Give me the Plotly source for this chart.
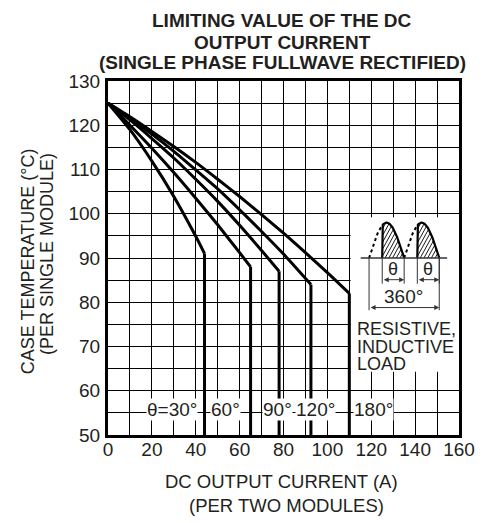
import numpy as np
import plotly.graph_objects as go

# ---------------- data ----------------
i_30 = [0, 10, 20, 30, 40, 44]
t_30 = [125, 119.0, 111.9, 103.9, 94.9, 91.0]
i_60 = [0, 10, 20, 30, 40, 50, 60, 65]
t_60 = [125, 120.0, 114.8, 109.3, 103.5, 97.5, 91.2, 88.0]
i_90 = [0, 10, 20, 30, 40, 50, 60, 70, 78]
t_90 = [125, 121.2, 117.0, 112.6, 107.8, 102.8, 97.4, 91.7, 87.0]
i_120 = [0, 10, 20, 30, 40, 50, 60, 70, 80, 92.5]
t_120 = [125, 121.6, 118.0, 114.1, 109.9, 105.6, 100.9, 96.0, 90.9, 84.0]
i_180 = [0, 10, 20, 30, 40, 50, 60, 70, 80, 90, 100, 110]
t_180 = [125, 121.9, 118.6, 115.2, 111.6, 107.8, 103.9, 99.8, 95.6, 91.2, 86.7, 82.0]

curve_i = [i_30, i_60, i_90, i_120, i_180]
curve_t = [t_30, t_60, t_90, t_120, t_180]

label_text = ["θ=30°", "60°", "90°", "120°", "180°"]
label_i = [29.3, 53.5, 77.4, 94.4, 120.9]
label_t = 55.8

x_ticks = [0, 20, 40, 60, 80, 100, 120, 140, 160]
y_ticks = [50, 60, 70, 80, 90, 100, 110, 120, 130]

title_lines = ["LIMITING VALUE OF THE DC", "OUTPUT CURRENT",
               "(SINGLE PHASE FULLWAVE RECTIFIED)"]
y_title_lines = ["CASE TEMPERATURE (°C)", "(PER SINGLE MODULE)"]
x_title_lines = ["DC OUTPUT CURRENT (A)", "(PER TWO MODULES)"]
load_lines = ["RESISTIVE,", "INDUCTIVE", "LOAD"]

# ---------------- styling / inset geometry ----------------
FONT = "Liberation Sans"
TXT = "#231f20"
WIN_W, WIN_H = 487, 523
OFF = 8                       # page body margin of the browser
W, H = WIN_W - OFF, WIN_H - OFF
PL, PR, PT, PB = 108, 465, 81, 435   # plot area in window pixels
L = PL - OFF
T = PT - OFF
R = W - (PR - OFF)
B = H - (PB - OFF)
Y_MIN = 50

inset_base = 90.0
arc_starts = [119.0, 135.0]
arc_w = 16.0
arc_h = 8.0
fire_off = 6.0

fig = go.Figure()

# white cover for the inset area (above grid, below curves)
cover_x = [110.6, 160, 160, 110.6, 110.6]
cover_y = [64.3, 64.3, 99.2, 99.2, 64.3]
fig.add_trace(go.Scatter(x=cover_x, y=cover_y, fill="toself", fillcolor="white",
                         mode="lines", line=dict(width=0, color="white"),
                         hoverinfo="skip"))

# curves
for xs, ts in zip(curve_i, curve_t):
    fig.add_trace(go.Scatter(x=xs, y=ts, mode="lines",
                             line=dict(color="black", width=3, shape="spline",
                                       smoothing=0.6)))
    fig.add_trace(go.Scatter(x=[xs[-1], xs[-1]], y=[ts[-1], Y_MIN], mode="lines",
                             line=dict(color="black", width=3)))

# inset waveform
def arc(x, s):
    return inset_base + arc_h * np.sin(np.pi * (x - s) / arc_w)

hx, hy = [], []
k = 0.9
for s in arc_starts:
    f = s + fire_off
    e = s + arc_w
    xd = np.linspace(s, f, 30)
    fig.add_trace(go.Scatter(x=xd, y=arc(xd, s), mode="lines",
                             line=dict(color="black", width=2, dash="3px,3px")))
    xs_ = np.linspace(f, e, 40)
    fig.add_trace(go.Scatter(x=np.concatenate([[f], xs_]),
                             y=np.concatenate([[inset_base], arc(xs_, s)]),
                             mode="lines", line=dict(color="black", width=2.2)))
    xx = np.linspace(f, e, 600)
    c = f - arc_h / k
    while c < e:
        tl = inset_base + k * (xx - c)
        inside = (tl >= inset_base) & (tl <= arc(xx, s))
        if inside.any():
            idx = np.where(inside)[0]
            hx += [xx[idx[0]], xx[idx[-1]], None]
            hy += [tl[idx[0]], tl[idx[-1]], None]
        c += 1.7
fig.add_trace(go.Scatter(x=hx, y=hy, mode="lines", line=dict(color="black", width=0.9)))

# baseline
fig.add_trace(go.Scatter(x=[115.2, 154.6], y=[inset_base, inset_base], mode="lines",
                         line=dict(color="#333", width=1.5)))

# extension lines
ext_x, ext_y = [], []
for s in arc_starts:
    for xv in (s + fire_off, s + arc_w):
        ext_x += [xv, xv, None]
        ext_y += [inset_base, 84.2, None]
for xv in (arc_starts[0], arc_starts[1] + arc_w):
    ext_x += [xv, xv, None]
    ext_y += [inset_base, 78.2, None]
fig.add_trace(go.Scatter(x=ext_x, y=ext_y, mode="lines",
                         line=dict(color="#333", width=1)))

annotations = []

def dim_arrow(x0, x1, yv):
    annotations.append(dict(x=x1, y=yv, ax=x0, ay=yv, xref="x", yref="y",
                            axref="x", ayref="y", text="", showarrow=True,
                            arrowhead=2, arrowside="end+start", arrowsize=1,
                            arrowwidth=1, arrowcolor="#333", standoff=0,
                            startstandoff=0))

for s in arc_starts:
    dim_arrow(s + fire_off, s + arc_w, 85.1)
    annotations.append(dict(x=s + fire_off + (arc_w - fire_off) / 2, y=87.6,
                            xref="x", yref="y", text="θ", showarrow=False,
                            xanchor="center", yanchor="middle",
                            font=dict(family=FONT, size=18, color=TXT)))
dim_arrow(arc_starts[0], arc_starts[1] + arc_w, 78.8)
annotations.append(dict(x=134.7, y=81.3, xref="x", yref="y", text="360°",
                        showarrow=False, xanchor="center", yanchor="middle",
                        font=dict(family=FONT, size=19, color=TXT)))

for txt, tv in zip(load_lines, [73.9, 70.0, 66.1]):
    annotations.append(dict(x=112.7, y=tv, xref="x", yref="y", text=txt,
                            xanchor="left", yanchor="middle", showarrow=False,
                            font=dict(family=FONT, size=18, color=TXT)))

for txt, xv in zip(label_text, label_i):
    annotations.append(dict(x=xv, y=label_t, xref="x", yref="y", text=txt,
                            showarrow=False, bgcolor="white", borderpad=0,
                            xanchor="center", yanchor="middle",
                            font=dict(family=FONT, size=19, color=TXT)))

def px(p):
    return (p - PL) / (PR - PL)
def py(p):
    return (PB - p) / (PB - PT)

for txt, yy in zip(title_lines, [20.3, 42, 63]):
    annotations.append(dict(x=px(285.4), y=py(yy), xref="paper", yref="paper",
                            text="<b>" + txt + "</b>", showarrow=False,
                            xanchor="center", yanchor="middle",
                            font=dict(family=FONT, size=19, color=TXT)))
for txt, xx, yy in zip(y_title_lines, [26, 46], [260.8, 254]):
    annotations.append(dict(x=px(xx), y=py(yy), xref="paper", yref="paper",
                            text=txt, showarrow=False, textangle=-90,
                            xanchor="center", yanchor="middle",
                            font=dict(family=FONT, size=18, color=TXT)))
for txt, xx, yy in zip(x_title_lines, [284.2, 290], [481.7, 505]):
    annotations.append(dict(x=px(xx), y=py(yy), xref="paper", yref="paper",
                            text=txt, showarrow=False,
                            xanchor="center", yanchor="middle",
                            font=dict(family=FONT, size=18.5, color=TXT)))

grid = dict(showgrid=True, gridcolor="black", gridwidth=1)
fig.update_xaxes(range=[0, 160], tickvals=x_ticks, **grid,
                 minor=dict(dtick=10, showgrid=True, gridcolor="black", gridwidth=1),
                 showline=True, linewidth=3, linecolor="black", mirror=True,
                 ticks="", zeroline=False, ticklabelstandoff=-5,
                 tickfont=dict(family=FONT, size=19, color=TXT))
fig.update_yaxes(range=[50, 130], tickvals=y_ticks, **grid,
                 minor=dict(dtick=5, showgrid=True, gridcolor="black", gridwidth=1),
                 showline=True, linewidth=3, linecolor="black", mirror=True,
                 ticks="", zeroline=False, ticklabelstandoff=1,
                 tickfont=dict(family=FONT, size=19, color=TXT))

fig.update_layout(width=W, height=H, margin=dict(l=L, r=R, t=T, b=B),
                  showlegend=False, plot_bgcolor="white", paper_bgcolor="white",
                  annotations=annotations)

fig.write_html("out.html")
